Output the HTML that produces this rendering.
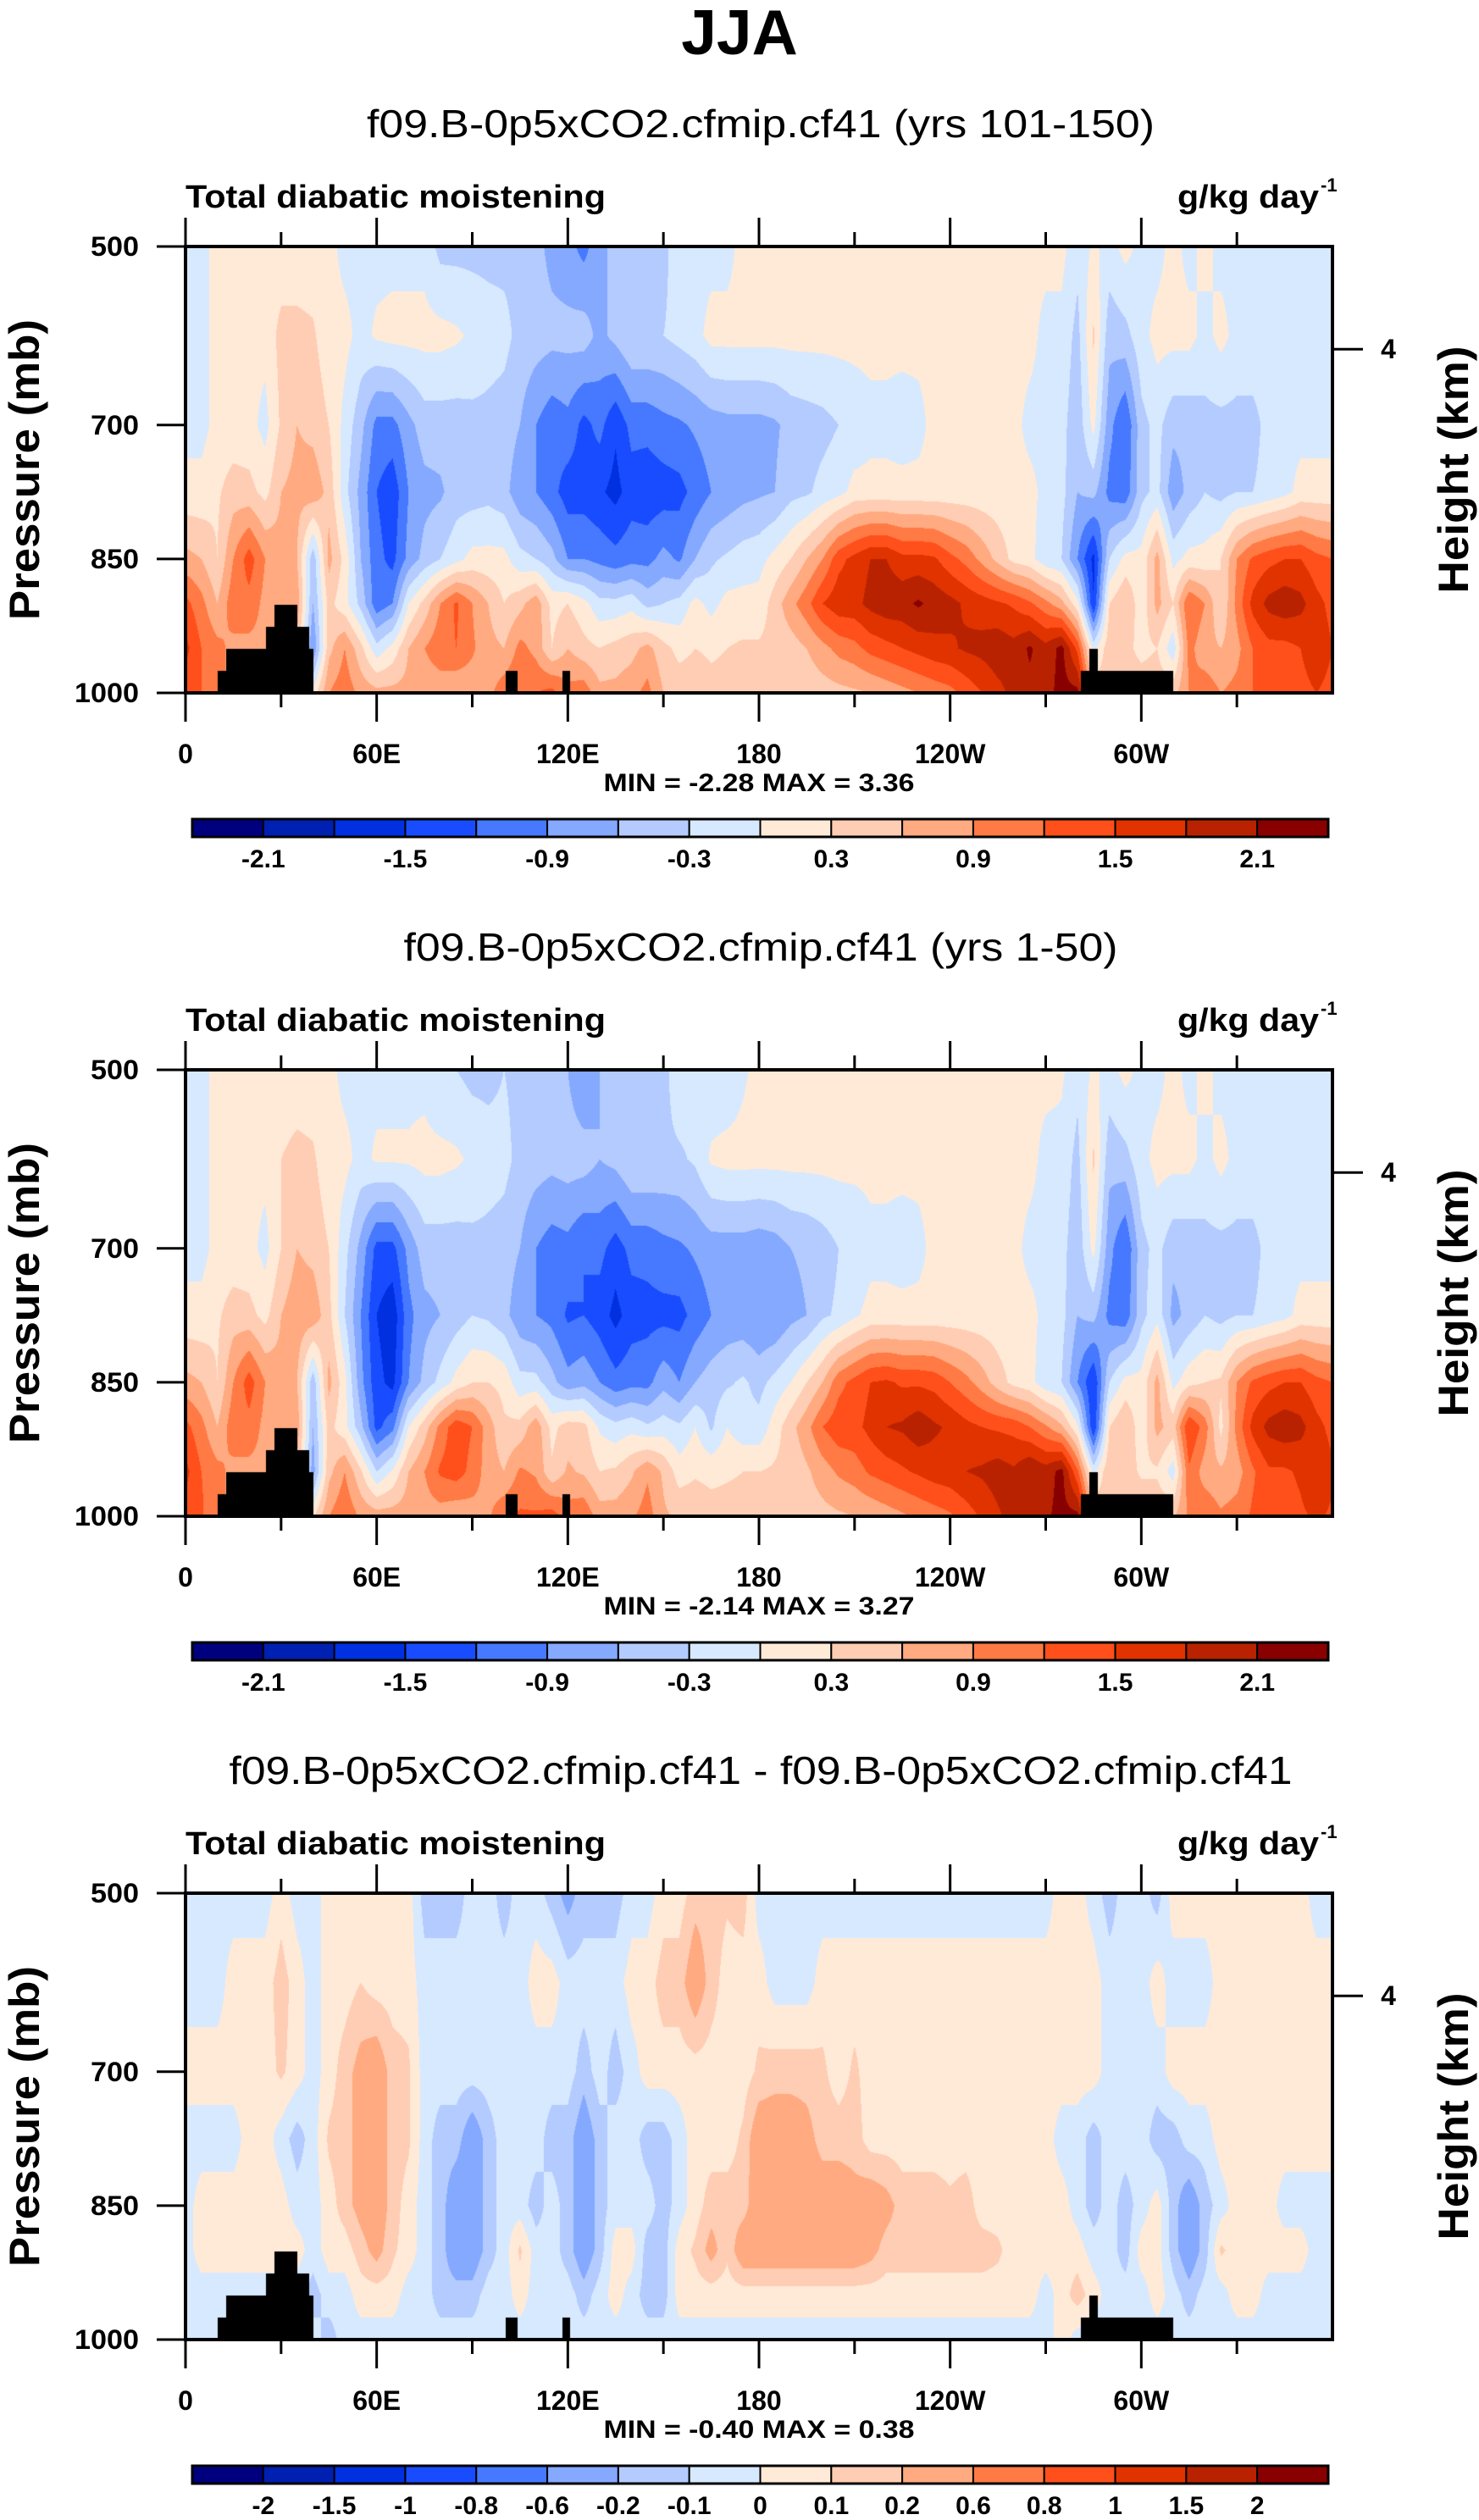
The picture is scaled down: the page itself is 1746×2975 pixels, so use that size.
<!DOCTYPE html>
<html><head><meta charset="utf-8">
<style>
html,body{margin:0;padding:0;background:#fff;}
#wrap{position:relative;width:1746px;height:2975px;overflow:hidden;background:#fff;}
canvas{position:absolute;}
svg{position:absolute;left:0;top:0;}
text{font-family:"Liberation Sans",Arial,sans-serif;fill:#000;}
</style></head>
<body>
<div id="wrap">
<canvas id="c0" width="1354" height="527" style="left:219px;top:291px"></canvas>
<canvas id="c1" width="1354" height="527" style="left:219px;top:1263px"></canvas>
<canvas id="c2" width="1354" height="527" style="left:219px;top:2235px"></canvas>
<svg id="ov" width="1746" height="2975" xmlns="http://www.w3.org/2000/svg">
<text x="873" y="64" text-anchor="middle" font-size="75" font-weight="bold">JJA</text>
</svg>
</div>
<script>
// ---------- shared axes data ----------
const pLevels = [500, 600, 700, 775, 850, 900, 950, 1000];
const lonTicksMajor = [0, 60, 120, 180, 240, 300];
const lonTickLabels = ["0", "60E", "120E", "180", "120W", "60W"];
const lonTicksMinor = [30, 90, 150, 210, 270, 330];
const presTicks = [500, 700, 850, 1000];
const presTickLabels = ["500", "700", "850", "1000"];
const heightTickP = 615;
const heightTickLabels = ["4"];
const topoLon0 = [10.1, 12.8, 25.3, 28.0, 35.0, 38.8, 100.4, 118.2, 281.1, 283.7, 286.4];
const topoLon1 = [12.8, 25.3, 28.0, 35.0, 38.8, 40.2, 104.1, 120.7, 283.7, 286.4, 309.9];
const topoTop  = [975, 951, 926, 901, 926, 951, 975, 975, 975, 951, 975];

// ---------- panel 1 (yrs 101-150), lon 0..360 step 5 ----------
const a500 = [-0.1,-0.1,0.1,0.1,0.1,0.1,0.1,0.1,0.1,0.1,-0.1,-0.1,-0.1,-0.1,-0.1,-0.1,-0.4,-0.4,-0.4,-0.4,-0.4,-0.4,-0.5,-0.7,-0.8,-1.0,-0.7,-0.5,-0.6,-0.4,-0.4,-0.1,-0.1,-0.1,-0.1,0.1,0.1,
 0.1,0.1,0.1,0.1,0.1,0.1,0.1,0.1,0.1,0.1,0.1,0.1,0.1,0.1,0.1,0.1,0.1,0.1,0.1,-0.2,0.05,-0.1,0.1,-0.1,-0.1,0.1,-0.1,0.1,-0.1,-0.1,-0.1,-0.1,-0.1,-0.1,-0.1,-0.1];
const a600 = [-0.1,-0.1,0.1,0.1,0.1,0.1,0.4,0.4,0.35,0.1,0.1,-0.1,0.05,0.1,0.1,0.1,0.1,0.05,-0.05,-0.15,-0.2,-0.4,-0.45,-0.5,-0.5,-0.45,-0.7,-0.5,-0.3,-0.3,-0.3,-0.2,-0.1,0.1,0.1,0.1,0.1,
 0.1,0.1,0.1,0.1,0.1,0.1,0.1,0.1,0.1,0.1,0.1,0.1,0.1,0.1,0.1,0.1,0.1,-0.1,-0.1,-0.4,0.35,-0.5,-0.4,-0.1,0.1,0.1,0.1,-0.1,0.1,-0.1,-0.1,-0.1,-0.1,-0.1,-0.1,-0.1];
const a700 = [-0.1,-0.1,0.1,0.1,0.1,-0.1,0.35,0.6,0.5,0.3,-0.1,-0.5,-1.0,-1.0,-0.7,-0.45,-0.45,-0.45,-0.4,-0.4,-0.45,-0.6,-0.9,-1.1,-1.0,-1.3,-1.1,-1.45,-1.1,-1.1,-1.0,-0.95,-0.85,-0.75,-0.7,-0.7,-0.7,
 -0.65,-0.5,-0.45,-0.4,-0.3,-0.2,-0.1,-0.1,-0.15,-0.1,0.1,0.1,0.1,0.1,0.1,0.1,-0.1,-0.1,-0.2,-0.5,0.1,-0.8,-1.2,-0.4,-0.2,-0.5,-0.5,-0.4,-0.4,-0.4,-0.4,-0.2,-0.1,-0.1,-0.1,-0.1];
const a775 = [0.1,0.1,0.25,0.45,0.4,0.2,0.6,0.7,0.8,0.5,-0.2,-0.7,-1.2,-1.4,-0.9,-0.7,-0.65,-0.45,-0.45,-0.4,-0.5,-0.8,-0.9,-1.1,-1.35,-1.35,-1.45,-1.6,-1.35,-1.4,-1.35,-1.3,-1.1,-0.9,-0.8,-0.7,-0.65,
 -0.6,-0.4,-0.35,-0.2,-0.1,0.1,0.1,0.1,0.1,0.1,0.1,0.1,0.1,0.1,0.1,0.1,0.1,-0.1,-0.2,-0.6,-0.5,-1.0,-1.1,-0.4,-0.2,-0.8,-0.5,-0.3,-0.4,-0.3,-0.3,-0.2,-0.1,0.1,0.1,0.1];
const a850 = [0.7,0.6,0.3,0.9,1.35,0.9,0.7,0.6,-0.5,0.7,0.2,-0.6,-1.1,-1.3,-0.8,-0.5,-0.3,-0.1,0.1,0.1,0.1,-0.2,-0.3,-0.5,-0.9,-0.9,-1.0,-1.1,-1.0,-1.0,-0.8,-0.95,-0.6,-0.35,-0.25,-0.15,-0.1,
 0.1,0.3,0.6,0.9,1.4,1.6,1.8,1.8,1.6,1.6,1.55,1.3,1.1,0.8,0.5,0.2,0.1,-0.2,-0.3,-0.9,-1.6,-0.3,0.1,0.1,0.7,-0.1,0.1,0.1,0.3,0.9,1.25,1.4,1.5,1.5,1.3,1.2];
const a900 = [1.3,1.0,0.6,1.1,1.1,0.8,0.8,0.8,-0.6,0.4,0.1,-0.4,-1.1,-0.9,0.0,0.4,0.9,1.25,0.9,0.6,0.3,0.5,0.8,0.2,0.3,0.1,-0.2,-0.2,-0.1,-0.4,-0.3,-0.2,0.1,-0.1,0.1,0.1,0.1,
 0.45,0.8,1.1,1.5,1.7,1.7,1.9,2.0,2.0,2.15,2.0,1.9,1.75,1.65,1.55,1.45,1.25,1.0,0.7,0.1,-1.5,0.3,0.6,0.1,0.7,0.3,1.2,0.9,0.3,1.0,1.6,1.9,2.0,1.9,1.6,1.4];
const a950 = [1.6,1.2,1.0,0.8,0.8,0.8,0.8,0.5,-0.9,0.5,0.9,0.4,-0.2,0.1,0.6,0.9,1.1,1.2,0.95,0.7,0.6,1.0,0.8,0.3,0.6,0.4,0.3,0.4,0.5,0.7,0.4,0.2,0.3,0.25,0.3,0.35,0.35,
 0.4,0.45,0.6,0.8,1.0,1.1,1.3,1.4,1.5,1.6,1.7,1.75,1.85,1.9,2.0,1.9,2.15,1.9,2.2,1.4,-0.1,0.5,0.4,0.2,0.3,-0.2,1.0,0.7,0.6,0.8,1.2,1.4,1.4,1.5,1.7,1.5];
const a1000 = [1.3,1.2,0.9,0.9,0.9,0.9,0.9,0.9,0.1,0.9,1.1,0.8,0.7,0.7,0.7,0.7,0.7,0.6,0.7,0.8,1.1,1.2,1.2,1.3,1.0,1.1,0.7,0.7,0.8,1.0,0.6,0.5,0.5,0.4,0.4,0.4,0.4,
 0.4,0.4,0.4,0.45,0.5,0.55,0.6,0.7,0.8,0.9,1.0,1.1,1.3,1.5,1.7,1.9,2.0,2.0,2.2,2.2,0.5,0.5,0.5,0.5,0.5,0.5,0.9,1.1,0.9,1.0,1.2,1.3,1.3,1.4,1.5,1.4];

// ---------- panel 2 (yrs 1-50) ----------
const b500 = [-0.1,-0.1,0.1,0.1,0.1,0.1,0.1,0.1,0.1,0.1,-0.1,-0.1,-0.1,-0.1,-0.1,-0.1,-0.3,-0.3,-0.4,-0.4,-0.3,-0.4,-0.5,-0.6,-0.6,-0.9,-0.6,-0.4,-0.6,-0.4,-0.4,-0.1,-0.2,-0.2,-0.2,-0.05,0.1,
 0.1,0.1,0.1,0.1,0.1,0.1,0.1,0.1,0.1,0.1,0.1,0.1,0.1,0.1,0.1,0.1,0.1,0.1,0.05,-0.2,0.05,-0.1,0.1,-0.1,-0.1,0.1,-0.1,0.1,-0.1,-0.1,-0.1,-0.1,-0.1,-0.1,-0.1,-0.1];
const b600 = [-0.1,-0.1,0.1,0.1,0.1,0.1,0.3,0.4,0.35,0.1,0.1,-0.1,0.05,0.05,0.05,0.1,0.1,0.05,-0.05,-0.15,-0.2,-0.4,-0.45,-0.5,-0.45,-0.45,-0.6,-0.5,-0.3,-0.3,-0.35,-0.35,-0.25,0.05,0.1,0.1,0.1,
 0.1,0.1,0.1,0.1,0.1,0.1,0.1,0.1,0.1,0.1,0.1,0.1,0.1,0.1,0.1,0.1,0.1,-0.1,-0.1,-0.4,0.35,-0.5,-0.4,-0.1,0.1,0.1,0.1,-0.1,0.1,-0.1,-0.1,-0.1,-0.1,-0.1,-0.1,-0.1];
const b700 = [-0.1,-0.1,0.1,0.1,0.1,-0.1,0.3,0.6,0.5,0.3,-0.2,-0.7,-1.3,-1.3,-0.8,-0.45,-0.45,-0.45,-0.4,-0.4,-0.45,-0.6,-0.9,-1.05,-1.0,-1.2,-1.1,-1.35,-1.1,-1.1,-1.0,-0.95,-0.85,-0.75,-0.75,-0.75,-0.8,
 -0.75,-0.6,-0.55,-0.45,-0.3,-0.25,-0.1,-0.1,-0.15,-0.1,0.1,0.1,0.1,0.1,0.1,0.1,-0.1,-0.1,-0.2,-0.5,0.1,-0.8,-1.2,-0.4,-0.2,-0.5,-0.5,-0.4,-0.4,-0.4,-0.4,-0.2,-0.1,-0.1,-0.1,-0.1];
const b775 = [0.1,0.1,0.25,0.45,0.4,0.2,0.6,0.8,0.8,0.4,-0.3,-0.9,-1.5,-1.7,-1.0,-0.7,-0.6,-0.45,-0.3,-0.35,-0.5,-0.8,-0.9,-1.0,-1.25,-1.2,-1.35,-1.6,-1.35,-1.3,-1.3,-1.3,-1.1,-0.9,-0.8,-0.8,-0.9,
 -0.9,-0.7,-0.6,-0.35,-0.25,-0.05,0.1,0.1,0.1,0.1,0.1,0.1,0.1,0.1,0.1,0.1,0.1,-0.1,-0.2,-0.6,-0.5,-1.0,-1.1,-0.4,-0.1,-0.7,-0.5,-0.3,-0.4,-0.3,-0.3,-0.2,-0.1,0.1,0.1,0.1];
const b850 = [0.7,0.6,0.3,0.9,1.35,0.9,0.7,0.6,-0.5,0.7,0.1,-0.8,-1.4,-1.6,-0.9,-0.5,-0.2,0.1,0.3,0.3,0.2,-0.2,-0.2,-0.5,-0.8,-0.7,-0.9,-1.1,-1.0,-1.0,-0.7,-0.9,-0.6,-0.45,-0.35,-0.25,-0.4,
 -0.2,0.0,0.3,0.6,1.1,1.3,1.5,1.55,1.45,1.45,1.4,1.2,1.0,0.75,0.45,0.2,0.1,-0.2,-0.3,-0.9,-1.5,-0.3,0.1,0.1,0.7,-0.1,0.2,0.3,0.35,0.9,1.25,1.4,1.5,1.5,1.3,1.2];
const b900 = [1.3,1.0,0.6,1.1,1.1,0.8,0.8,0.8,-0.6,0.4,0.1,-0.5,-1.3,-1.0,0.0,0.45,1.0,1.4,1.2,0.75,0.35,0.4,0.8,0.2,0.45,0.4,-0.05,-0.2,-0.1,-0.25,-0.15,-0.25,0.0,-0.35,0.0,-0.2,-0.2,
 0.15,0.5,0.8,1.2,1.4,1.4,1.6,1.8,1.85,2.0,1.85,1.75,1.6,1.5,1.45,1.4,1.2,0.95,0.65,0.05,-1.5,0.3,0.6,0.1,0.7,0.45,1.5,1.05,0.2,1.0,1.6,1.9,2.0,1.9,1.6,1.4];
const b950 = [1.6,1.2,1.0,0.8,0.8,0.8,0.8,0.5,-0.75,0.5,0.9,0.35,-0.3,0.05,0.6,0.9,1.25,1.35,1.1,0.75,0.6,0.95,0.85,0.35,0.65,0.55,0.3,0.35,0.55,0.85,0.55,0.15,0.25,0.2,0.25,0.3,0.3,
 0.35,0.4,0.55,0.75,0.95,1.05,1.25,1.35,1.45,1.55,1.65,1.7,1.8,1.85,1.95,1.85,2.1,1.95,2.2,1.25,-0.1,0.55,0.45,0.25,0.25,-0.15,1.15,0.75,0.65,0.75,1.15,1.45,1.45,1.55,1.75,1.55];
const b1000 = [1.35,1.25,0.9,0.9,0.9,0.9,0.9,0.9,0.25,0.9,1.15,0.85,0.75,0.75,0.75,0.75,0.75,0.65,0.75,0.85,1.15,1.25,1.25,1.35,1.05,1.15,0.75,0.75,0.85,1.05,0.65,0.55,0.55,0.45,0.45,0.45,0.45,
 0.45,0.45,0.45,0.5,0.55,0.6,0.65,0.75,0.85,0.95,1.05,1.15,1.35,1.55,1.75,1.95,2.05,2.05,2.2,2.2,0.55,0.55,0.55,0.55,0.55,0.55,0.95,1.15,0.95,1.05,1.25,1.35,1.35,1.45,1.55,1.45];

// ---------- panel 3 (difference) ----------
const d500 = [-0.05,-0.05,-0.05,-0.05,-0.05,-0.05,0.05,-0.05,-0.05,0.05,0.05,0.05,0.05,0.05,0.05,-0.15,-0.15,-0.15,-0.05,-0.05,-0.15,-0.05,-0.05,-0.15,-0.25,-0.15,-0.15,-0.15,-0.05,-0.05,0.05,0.05,0.15,0.15,0.12,0.15,-0.05,
 -0.05,-0.05,-0.05,-0.05,-0.05,-0.05,-0.05,-0.05,-0.05,-0.05,-0.05,-0.05,-0.05,-0.05,-0.05,-0.05,-0.05,-0.05,0.05,0.05,-0.05,-0.15,-0.05,-0.05,-0.15,0.05,0.05,0.05,0.05,0.05,0.05,0.05,0.05,0.05,-0.05,-0.05];
const d600 = [-0.05,-0.05,-0.05,0.05,0.05,0.05,0.15,0.05,-0.05,0.05,0.05,0.1,0.05,0.05,0.05,-0.05,-0.05,-0.05,-0.05,-0.05,-0.05,-0.05,0.05,0.05,-0.05,-0.05,-0.05,-0.05,0.05,0.05,0.15,0.15,0.3,0.15,0.05,0.05,0.05,
 -0.05,-0.05,-0.05,0.05,0.05,0.05,0.05,0.05,0.05,0.05,0.05,0.05,0.05,0.05,0.05,0.05,0.05,0.05,0.05,0.05,0.05,-0.05,-0.05,-0.05,0.05,-0.05,-0.05,-0.05,0.05,0.05,0.05,0.05,0.05,0.05,0.05,0.05];
const d700 = [0.05,0.05,0.05,0.05,0.05,0.05,0.12,0.05,-0.05,0.05,0.15,0.25,0.3,0.15,0.12,-0.05,-0.05,-0.05,-0.05,-0.05,-0.05,-0.05,-0.05,-0.05,-0.05,-0.15,-0.05,-0.15,-0.05,0.05,0.05,0.05,0.05,0.05,0.05,0.05,0.12,
 0.15,0.15,0.15,0.12,0.05,0.12,0.05,0.05,0.05,0.05,0.05,0.05,0.05,0.05,0.05,0.05,0.05,0.05,0.05,0.05,0.05,-0.05,-0.05,-0.05,-0.05,0.05,0.05,0.05,0.05,0.05,0.05,0.05,0.05,0.05,0.05,0.05];
const d775 = [-0.05,-0.05,-0.05,-0.05,0.05,0.05,-0.05,-0.15,-0.05,0.12,0.15,0.25,0.3,0.15,0.12,-0.05,-0.15,-0.15,-0.3,-0.15,-0.05,-0.05,-0.05,-0.15,-0.15,-0.3,-0.15,-0.05,-0.05,-0.15,-0.15,-0.05,0.05,0.05,0.05,0.12,0.3,
 0.3,0.3,0.25,0.15,0.15,0.15,0.05,0.05,0.05,0.05,0.05,0.05,0.05,0.05,0.05,0.05,0.05,0.05,-0.05,-0.05,-0.15,-0.05,-0.05,-0.05,-0.15,-0.15,-0.05,-0.05,0.05,0.05,0.05,0.05,0.05,0.05,0.05,0.05];
const d850 = [-0.05,0.05,0.05,0.05,0.05,0.05,0.05,-0.05,-0.05,0.05,0.15,0.25,0.3,0.15,0.05,-0.05,-0.15,-0.3,-0.3,-0.15,-0.05,-0.05,-0.15,-0.05,-0.15,-0.3,-0.15,-0.05,-0.05,-0.05,-0.15,-0.05,0.05,0.15,0.15,0.15,0.3,
 0.3,0.3,0.3,0.3,0.3,0.25,0.3,0.25,0.15,0.15,0.15,0.12,0.15,0.05,0.05,0.05,0.05,0.05,0.05,-0.05,-0.15,-0.05,-0.15,-0.05,0.05,-0.15,-0.3,-0.15,-0.05,0.05,0.05,0.05,-0.05,-0.05,-0.05,-0.05];
const d900 = [-0.05,0.05,0.05,0.05,0.05,0.05,0.05,0.05,-0.05,0.05,0.05,0.15,0.25,0.12,0.05,-0.05,-0.15,-0.3,-0.3,-0.15,-0.05,0.12,-0.05,-0.05,-0.15,-0.3,-0.15,0.05,0.05,-0.15,-0.15,0.05,0.12,0.25,0.12,0.3,0.3,
 0.3,0.3,0.3,0.3,0.3,0.3,0.25,0.15,0.15,0.15,0.15,0.15,0.15,0.15,0.12,0.05,0.05,0.05,0.05,0.05,-0.05,-0.05,-0.15,0.05,0.05,-0.15,-0.3,-0.15,0.12,0.05,0.05,0.05,0.05,0.05,-0.05,-0.05];
const d950 = [
 -0.05,-0.05,-0.05,-0.05,-0.05,-0.05,-0.05,-0.05,-0.15,-0.05,
 -0.05,0.05,0.05,0.05,-0.05,-0.05,-0.15,-0.15,-0.15,-0.05,
 -0.05,0.05,-0.05,-0.05,-0.05,-0.15,-0.05,0.05,-0.05,-0.15,
 -0.15,0.05,0.05,0.05,0.05,0.05,0.05,0.05,0.05,0.05,
 0.05,0.05,0.05,0.05,0.05,0.05,0.05,0.05,0.05,0.05,
 0.05,0.05,0.05,0.05,-0.05,0.05,0.15,0.05,-0.05,-0.05,
 -0.05,0.05,-0.05,-0.15,-0.05,-0.05,0.05,0.05,-0.05,-0.05,
 -0.05,-0.05,-0.05];
const d1000 = [
 -0.05,-0.05,-0.05,-0.05,-0.05,-0.05,-0.05,-0.05,-0.05,-0.15,
 -0.05,-0.05,-0.05,-0.05,-0.05,-0.05,-0.05,-0.05,-0.05,-0.05,
 -0.05,-0.05,-0.05,-0.05,-0.05,-0.05,-0.05,-0.05,-0.05,-0.05,
 -0.05,-0.05,-0.05,-0.05,-0.05,-0.05,-0.05,-0.05,-0.05,-0.05,
 -0.05,-0.05,-0.05,-0.05,-0.05,-0.05,-0.05,-0.05,-0.05,-0.05,
 -0.05,-0.05,-0.05,-0.05,-0.05,0.05,-0.05,-0.05,-0.05,-0.05,
 -0.05,-0.05,-0.05,-0.05,-0.05,-0.05,-0.05,-0.05,-0.05,-0.05,
 -0.05,-0.05,-0.05];

// contour levels and colour tables
const levelsAbs = [-2.1,-1.8,-1.5,-1.2,-0.9,-0.6,-0.3,0,0.3,0.6,0.9,1.2,1.5,1.8,2.1];
const labelsAbs = ["","-2.1","","-1.5","","-0.9","","-0.3","","0.3","","0.9","","1.5","","2.1",""];
const levelsDiff = [-2,-1.5,-1,-0.8,-0.6,-0.2,-0.1,0,0.1,0.2,0.6,0.8,1,1.5,2];
const labelsDiff = ["","-2","-1.5","-1","-0.8","-0.6","-0.2","-0.1","0","0.1","0.2","0.6","0.8","1","1.5","2",""];
const fillColors = ["#00007f","#0020b2","#0030e0","#1a4cff","#4679ff","#84a9ff","#b4cbff","#d6e9ff","#ffead8","#ffcdb3","#ffaa80","#ff7a44","#ff4f1a","#e03300","#b82200","#880000"];

const panelTitles = ["f09.B-0p5xCO2.cfmip.cf41 (yrs 101-150)","f09.B-0p5xCO2.cfmip.cf41 (yrs 1-50)","f09.B-0p5xCO2.cfmip.cf41 - f09.B-0p5xCO2.cfmip.cf41"];
const panelStats = ["MIN =  -2.28  MAX =   3.36","MIN =  -2.14  MAX =   3.27","MIN =  -0.40  MAX =   0.38"];

const lonGrid = []; for (let l = 0; l <= 360; l += 5) lonGrid.push(l);
const fields = [[a500,a600,a700,a775,a850,a900,a950,a1000],[b500,b600,b700,b775,b850,b900,b950,b1000],[d500,d600,d700,d775,d850,d900,d950,d1000]];

const PX0 = 219, PW = 1354, PH = 527, PY0 = 291, DY = 972;
function xOf(lon){ return PX0 + lon / 360 * PW; }
function yOf(p, i){ return PY0 + DY*i + (p - 500) / 500 * PH; }

function hexRgb(h){ return [parseInt(h.substr(1,2),16),parseInt(h.substr(3,2),16),parseInt(h.substr(5,2),16)]; }
const rgbs = fillColors.map(hexRgb);

function drawField(cid, rows, levels){
  const ctx = document.getElementById(cid).getContext('2d');
  const img = ctx.createImageData(PW, PH); const d = img.data;
  for (let py = 0; py < PH; py++){
    const p = 500 + (py + 0.5) / PH * 500;
    let j = 0; while (j < pLevels.length - 2 && p > pLevels[j+1]) j++;
    const t = (p - pLevels[j]) / (pLevels[j+1] - pLevels[j]);
    const r0 = rows[j], r1 = rows[j+1];
    for (let px = 0; px < PW; px++){
      const lon = (px + 0.5) / PW * 360;
      let i = Math.min(Math.floor(lon / 5), lonGrid.length - 2);
      const s = (lon - lonGrid[i]) / (lonGrid[i+1] - lonGrid[i]);
      const v = (1-t)*((1-s)*r0[i] + s*r0[i+1]) + t*((1-s)*r1[i] + s*r1[i+1]);
      let k = 0; while (k < levels.length && v >= levels[k]) k++;
      let c = rgbs[k];
      for (let m = 0; m < topoLon0.length; m++){
        if (lon >= topoLon0[m] && lon < topoLon1[m] && p >= topoTop[m]) { c = [0,0,0]; break; }
      }
      const o = (py*PW + px)*4; d[o]=c[0]; d[o+1]=c[1]; d[o+2]=c[2]; d[o+3]=255;
    }
  }
  ctx.putImageData(img, 0, 0);
}
drawField('c0', fields[0], levelsAbs);
drawField('c1', fields[1], levelsAbs);
drawField('c2', fields[2], levelsDiff);

const NS = "http://www.w3.org/2000/svg";
const svg = document.getElementById('ov');
function el(tag, attrs, parent){
  const e = document.createElementNS(NS, tag);
  for (const k in attrs) e.setAttribute(k, attrs[k]);
  (parent || svg).appendChild(e); return e;
}
function txt(s, attrs, parent){ const e = el('text', attrs, parent); e.textContent = s; return e; }

const titleWidths = [930, 843, 1255];
for (let i = 0; i < 3; i++){
  const g = el('g', {});
  
  
  const oy = DY * i;
  let e = txt(panelTitles[i], {x: 898, y: 162 + oy, 'text-anchor': 'middle', 'font-size': 46, textLength: titleWidths[i], lengthAdjust: 'spacingAndGlyphs'}, g);
  
  
  e = txt("Total diabatic moistening", {x: 219, y: 245 + oy, 'font-size': 38, 'font-weight': 'bold', textLength: 496, lengthAdjust: 'spacingAndGlyphs'}, g);
  
  
  e = txt("g/kg day", {x: 1390, y: 245 + oy, 'font-size': 38, 'font-weight': 'bold', textLength: 167, lengthAdjust: 'spacingAndGlyphs'}, g);
  
  
  e = txt("-1", {x: 1559, y: 226 + oy, 'font-size': 22, 'font-weight': 'bold'}, g);
  
  
  e = el('rect', {x: PX0, y: PY0 + oy, width: PW, height: PH, fill: 'none', stroke: '#000', 'stroke-width': 4}, g);
  
  
  lonTicksMajor.forEach((lon, k) => {
    const x = xOf(lon);
    let t1 = el('line', {x1: x, x2: x, y1: PY0+oy, y2: PY0+oy-34, stroke: '#000', 'stroke-width': 3}, g);
    
    
    let t2 = el('line', {x1: x, x2: x, y1: PY0+PH+oy, y2: PY0+PH+oy+34, stroke: '#000', 'stroke-width': 3}, g);
    
    
    let lb = txt(lonTickLabels[k], {x: x, y: 901 + oy, 'text-anchor': 'middle', 'font-size': 32, 'font-weight': 'bold'}, g);
    
    
  });
  lonTicksMinor.forEach(lon => {
    const x = xOf(lon);
    let t1 = el('line', {x1: x, x2: x, y1: PY0+oy, y2: PY0+oy-17, stroke: '#000', 'stroke-width': 3}, g);
    
    
    let t2 = el('line', {x1: x, x2: x, y1: PY0+PH+oy, y2: PY0+PH+oy+17, stroke: '#000', 'stroke-width': 3}, g);
    
    
  });
  presTicks.forEach((p, k) => {
    const y = yOf(p, i);
    let t = el('line', {x1: PX0, x2: PX0-34, y1: y, y2: y, stroke: '#000', 'stroke-width': 3}, g);
    
    
    let lb = txt(presTickLabels[k], {x: 164, y: y + 11, 'text-anchor': 'end', 'font-size': 32, 'font-weight': 'bold', textLength: presTickLabels[k].length*19, lengthAdjust: 'spacingAndGlyphs'}, g);
    
    
  });
  const hy = yOf(heightTickP, i);
  e = el('line', {x1: PX0+PW, x2: PX0+PW+36, y1: hy, y2: hy, stroke: '#000', 'stroke-width': 3}, g);
  
  
  e = txt(heightTickLabels[0], {x: 1639, y: hy + 11, 'text-anchor': 'middle', 'font-size': 32, 'font-weight': 'bold'}, g);
  
  
  const cy = PY0 + PH/2 + oy;
  e = txt("Pressure (mb)", {x: 0, y: 0, 'text-anchor': 'middle', 'font-size': 50, 'font-weight': 'bold', textLength: 355, lengthAdjust: 'spacingAndGlyphs', transform: `translate(46,${cy}) rotate(-90)`}, g);
  
  
  e = txt("Height (km)", {x: 0, y: 0, 'text-anchor': 'middle', 'font-size': 50, 'font-weight': 'bold', textLength: 292, lengthAdjust: 'spacingAndGlyphs', transform: `translate(1733,${cy}) rotate(-90)`}, g);
  
  
  e = txt(panelStats[i], {x: 896, y: 934 + oy, 'text-anchor': 'middle', 'font-size': 30, 'font-weight': 'bold', textLength: 367, lengthAdjust: 'spacingAndGlyphs', 'xml:space': 'preserve'}, g);
  
  
  const cb = el('g', {}, g);
  
  
  const cbX = 227, cbW = 1341, cbY = 967 + oy, cbH = 21, bw = cbW / fillColors.length;
  fillColors.forEach((c, k) => {
    const r = el('rect', {x: cbX + k*bw, y: cbY, width: bw, height: cbH, fill: c, stroke: '#000', 'stroke-width': 2}, cb);
    
    
  });
  const labs = i < 2 ? labelsAbs : labelsDiff;
  labs.forEach((s, k) => {
    if (!s) return;
    const lb = txt(s, {x: cbX + k*bw, y: 1024 + oy, 'text-anchor': 'middle', 'font-size': 30, 'font-weight': 'bold'}, cb);
    
    
  });
  el('rect', {x: cbX, y: cbY, width: cbW, height: cbH, fill: 'none', stroke: '#000', 'stroke-width': 3}, cb);
}
</script>
</body></html>
